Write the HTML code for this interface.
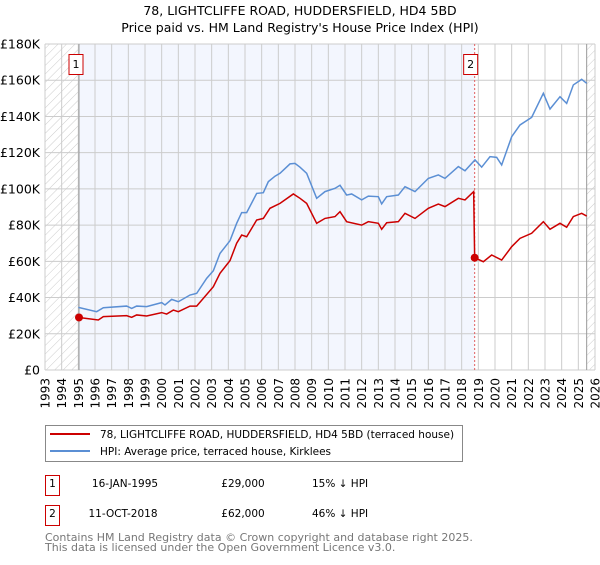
<!DOCTYPE html>
<html><head><meta charset="utf-8"><style>
body{margin:0;background:#fff;font-family:"Liberation Sans","DejaVu Sans",sans-serif;}
svg text{font-family:"DejaVu Sans","Liberation Sans",sans-serif;}
</style></head><body>
<svg id="chart" width="600" height="560" xmlns="http://www.w3.org/2000/svg">
<defs><pattern id="hatch" width="6" height="6" patternUnits="userSpaceOnUse" patternTransform="rotate(45)"><line x1="0" y1="0" x2="0" y2="6" stroke="#ccc" stroke-width="1"/></pattern></defs>
<text x="300" y="15" text-anchor="middle" font-size="12.5" fill="#000">78, LIGHTCLIFFE ROAD, HUDDERSFIELD, HD4 5BD</text>
<text x="300" y="32" text-anchor="middle" font-size="12.5" fill="#000">Price paid vs. HM Land Registry's House Price Index (HPI)</text>
<g id="plot"></g>
<g>
<rect x="45.5" y="425.5" width="417" height="36" fill="#fff" stroke="#888"/>
<line x1="50" y1="434" x2="90" y2="434" stroke="#cc0000" stroke-width="2"/>
<text x="100" y="438" font-size="10.5">78, LIGHTCLIFFE ROAD, HUDDERSFIELD, HD4 5BD (terraced house)</text>
<line x1="50" y1="451" x2="90" y2="451" stroke="#5b8fd4" stroke-width="2"/>
<text x="100" y="455" font-size="10.5">HPI: Average price, terraced house, Kirklees</text>
</g>
<g font-size="10.5">
<rect x="45.5" y="475.5" width="14" height="20" fill="#fff" stroke="#cc0000"/>
<text x="52.5" y="487" text-anchor="middle">1</text>
<text x="125" y="487" text-anchor="middle">16-JAN-1995</text>
<text x="243" y="487" text-anchor="middle">£29,000</text>
<text x="312" y="487">15% ↓ HPI</text>
<rect x="45.5" y="505.5" width="14" height="20" fill="#fff" stroke="#cc0000"/>
<text x="52.5" y="517" text-anchor="middle">2</text>
<text x="123" y="517" text-anchor="middle">11-OCT-2018</text>
<text x="243" y="517" text-anchor="middle">£62,000</text>
<text x="312" y="517">46% ↓ HPI</text>
</g>
<text x="45" y="541" font-size="11" fill="#777">Contains HM Land Registry data © Crown copyright and database right 2025.</text>
<text x="45" y="551" font-size="11" fill="#777">This data is licensed under the Open Government Licence v3.0.</text>
</svg>
<script>
const hpiYears=[1995,1996.1,1996.5,1997.9,1998.2,1998.5,1999.1,2000,2000.2,2000.6,2001,2001.7,2002.1,2002.7,2003.1,2003.5,2004.1,2004.5,2004.8,2005.1,2005.7,2006.1,2006.4,2006.8,2007.1,2007.7,2008,2008.3,2008.7,2009.3,2009.8,2010.4,2010.7,2011.1,2011.4,2012,2012.4,2013,2013.2,2013.5,2014.2,2014.6,2015.2,2016,2016.6,2017,2017.8,2018.2,2018.8,2019.2,2019.7,2020.1,2020.4,2021,2021.5,2022.2,2022.9,2023.3,2023.9,2024.3,2024.7,2025.2,2025.5];
const hpiValues=[34.6,32.2,34.4,35.3,34,35.3,35,37.2,35.9,39,37.7,41.4,42.3,50.6,54.8,64.4,71.4,81,86.9,86.9,97.5,97.9,104,107,108.6,113.8,114.1,112,108.6,94.8,98.5,100.3,102,96.6,97.2,93.9,96,95.7,91.7,95.7,96.6,101.2,98.5,105.8,107.7,105.8,112.3,110,116,112,117.8,117.4,113.2,128.8,135.3,139.5,152.8,144.1,150.9,147.2,157.4,160.5,158.3];
const propYears=[1995.04,1996.2,1996.5,1997.9,1998.2,1998.5,1999.1,2000,2000.3,2000.7,2001,2001.7,2002.1,2003.1,2003.5,2004.1,2004.5,2004.8,2005.1,2005.7,2006.1,2006.5,2007.1,2007.9,2008.3,2008.7,2009.3,2009.8,2010.4,2010.7,2011.1,2012,2012.4,2013,2013.2,2013.5,2014.2,2014.6,2015.2,2016,2016.6,2017,2017.8,2018.2,2018.72,2018.78,2019.3,2019.8,2020.4,2021,2021.5,2022.2,2022.9,2023.3,2023.9,2024.3,2024.7,2025.2,2025.5];
const propValues=[29,27.6,29.5,30,29.1,30.4,29.8,31.7,30.9,33.1,32.2,35.3,35.3,46,53.4,60.4,70,74.5,73.6,82.8,83.7,89.3,92,97.2,94.8,92,81,83.7,84.7,87.4,81.9,80,81.9,81,77.7,81.3,81.9,86.5,83.7,89.3,91.6,90.2,94.8,93.9,98.5,62,59.8,63.5,60.7,68.1,72.7,75.5,81.9,77.7,81,78.8,84.7,86.5,85];
const saleYears=[1995.04,2018.78];
const saleValues=[29,62];
const saleLabels=["1","2"];
const yTicks=[0,20,40,60,80,100,120,140,160,180];
const yTickLabels=["£0","£20K","£40K","£60K","£80K","£100K","£120K","£140K","£160K","£180K"];
const xTicks=[1993,1994,1995,1996,1997,1998,1999,2000,2001,2002,2003,2004,2005,2006,2007,2008,2009,2010,2011,2012,2013,2014,2015,2016,2017,2018,2019,2020,2021,2022,2023,2024,2025,2026];

const X0=45,X1=595,Y0=370,Y1=44;
const xs=y=>X0+(y-1993)/33*(X1-X0);
const ys=v=>Y0-v/180*(Y0-Y1);
const NS="http://www.w3.org/2000/svg";
const g=document.getElementById('plot');
function mk(t,a){const e=document.createElementNS(NS,t);for(const k in a)e.setAttribute(k,a[k]);g.appendChild(e);return e;}
let e;
e=mk('rect',{x:xs(1993),y:Y1,width:xs(1995.04)-xs(1993),height:Y0-Y1,fill:'url(#hatch)'});


e=mk('rect',{x:xs(1995.04),y:Y1,width:xs(2018.78)-xs(1995.04),height:Y0-Y1,fill:'#f3f6fe'});


e=mk('rect',{x:xs(2025.5),y:Y1,width:X1-xs(2025.5),height:Y0-Y1,fill:'url(#hatch)'});


xTicks.forEach(t=>{
 e=mk('line',{x1:xs(t),x2:xs(t),y1:Y1,y2:Y0,stroke:'#ccc','stroke-width':1});
 
 
 e=mk('text',{x:0,y:0,'font-size':12,transform:`translate(${xs(t)+4.5},${Y0+8}) rotate(-90)`,'text-anchor':'end'});
 e.textContent=t;
 
 
});
yTicks.forEach((t,i)=>{
 e=mk('line',{x1:X0,x2:X1,y1:ys(t),y2:ys(t),stroke:'#ccc','stroke-width':1});
 
 
 e=mk('text',{x:X0-5,y:ys(t)+4.5,'font-size':12.5,'text-anchor':'end'});
 e.textContent=yTickLabels[i];
 
 
});
e=mk('line',{x1:xs(1995.04),x2:xs(1995.04),y1:Y1,y2:Y0,stroke:'#999','stroke-width':1});


e=mk('line',{x1:xs(2018.78),x2:xs(2018.78),y1:Y1,y2:Y0,stroke:'#e06060','stroke-width':1,'stroke-dasharray':'2,2'});


e=mk('line',{x1:xs(2025.5),x2:xs(2025.5),y1:Y1,y2:Y0,stroke:'#999','stroke-width':1});


e=mk('polyline',{points:hpiYears.map((y,i)=>xs(y)+','+ys(hpiValues[i])).join(' '),fill:'none',stroke:'#5b8fd4','stroke-width':1.5});


e=mk('polyline',{points:propYears.map((y,i)=>xs(y)+','+ys(propValues[i])).join(' '),fill:'none',stroke:'#cc0000','stroke-width':1.5});


saleYears.forEach((y,i)=>{
 e=mk('circle',{cx:xs(y),cy:ys(saleValues[i]),r:4,fill:'#cc0000'});
 
 
 const bx=xs(y)-(i==0?3:4);
 e=mk('rect',{x:bx-7,y:54.5,width:14,height:20,fill:'#fff',stroke:'#cc0000'});
 
 
 e=mk('text',{x:bx,y:68,'font-size':11,'text-anchor':'middle'});
 e.textContent=saleLabels[i];
 
 
});
</script>
</body></html>
